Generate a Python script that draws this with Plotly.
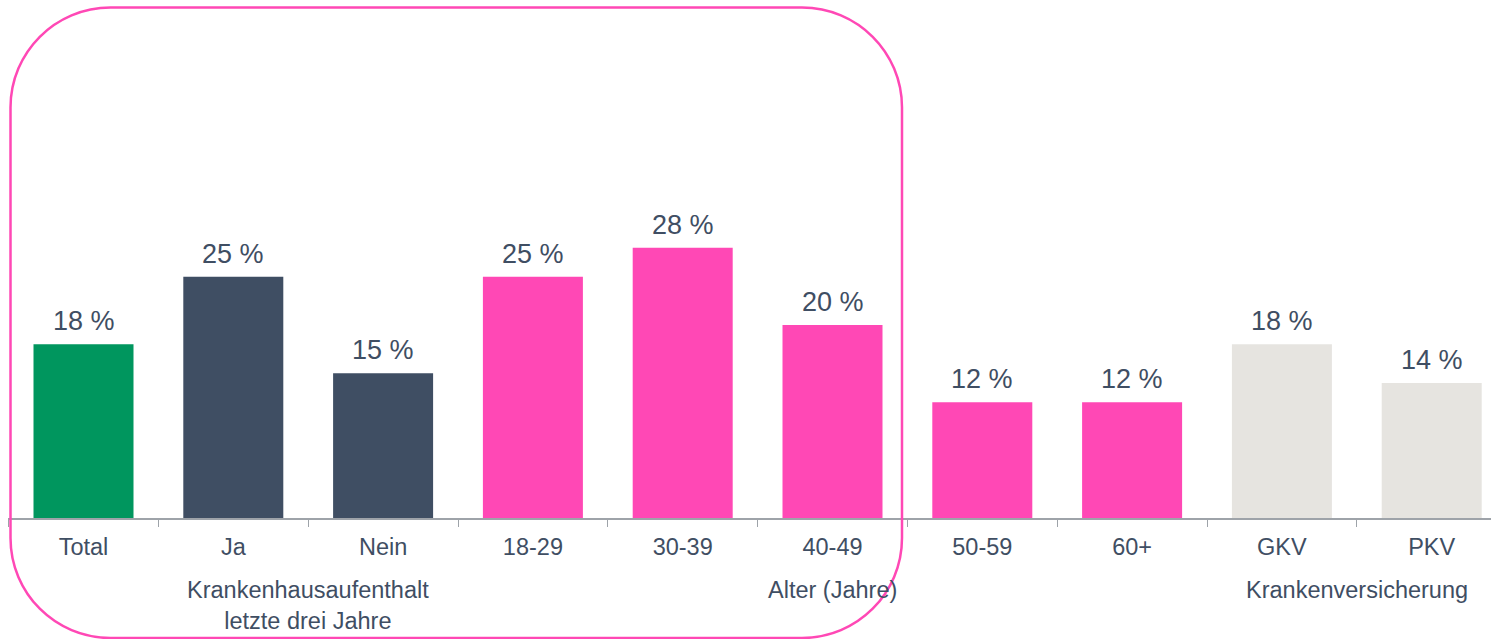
import plotly.graph_objects as go

categories = ["Total", "Ja", "Nein", "18-29", "30-39", "40-49", "50-59", "60+", "GKV", "PKV"]
values = [18, 25, 15, 25, 28, 20, 12, 12, 18, 14]
bar_colors = ["#00965E", "#3F4E63", "#3F4E63", "#FF48B5", "#FF48B5", "#FF48B5",
              "#FF48B5", "#FF48B5", "#E6E4E0", "#E6E4E0"]
group_labels = ["Krankenhausaufenthalt<br>letzte drei Jahre", "Alter (Jahre)", "Krankenversicherung"]
group_positions = [1.5, 5, 8.5]

TEXT = "#3F4E63"
FONT = "Liberation Sans, Arial, sans-serif"
W, H = 1491, 639
ML, MR, MT, MB = 8, 0, 0, 121
PW, PH = W - ML - MR, H - MT - MB
PX_PER_UNIT = 149.8
Y_PX_PER = 9.65

x_first_center = 83.5
x_max = (W - x_first_center) / PX_PER_UNIT
x_min = (ML - x_first_center) / PX_PER_UNIT
y_max = PH / Y_PX_PER

fig = go.Figure(go.Bar(
    x=categories, y=values,
    marker=dict(color=bar_colors, line=dict(width=0)),
    cliponaxis=False,
))

for c, v in zip(categories, values):
    fig.add_annotation(x=c, y=v, xref="x", yref="y", text=f"{v} %", showarrow=False,
                       yanchor="bottom", xanchor="center", yshift=6,
                       font=dict(size=27, color=TEXT, family=FONT))

def px2paper(px, py):
    return (px - ML) / PW, (H - MB - py) / PH

# rounded rectangle outline (pixel geometry)
L, T, R, B, r = 10.5, 7.5, 902, 638, 100
k = 0.5523 * r
def P(x, y):
    a, b = px2paper(x, y)
    return f"{a:.5f},{b:.5f}"
path = (
    f"M {P(L, T + r)} "
    f"C {P(L, T + r - k)} {P(L + r - k, T)} {P(L + r, T)} "
    f"L {P(R - r, T)} "
    f"C {P(R - r + k, T)} {P(R, T + r - k)} {P(R, T + r)} "
    f"L {P(R, B - r)} "
    f"C {P(R, B - r + k)} {P(R - r + k, B)} {P(R - r, B)} "
    f"L {P(L + r, B)} "
    f"C {P(L + r - k, B)} {P(L, B - r + k)} {P(L, B - r)} Z"
)
fig.add_shape(type="path", path=path, xref="paper", yref="paper",
              line=dict(color="#FF48B5", width=2.5), fillcolor="rgba(0,0,0,0)", layer="above")

for lab, pos in zip(group_labels, group_positions):
    fig.add_annotation(x=pos, y=px2paper(0, 575)[1], xref="x", yref="paper",
                       text=lab, showarrow=False, yanchor="top", xanchor="center",
                       font=dict(size=23.5, color=TEXT, family=FONT))

fig.update_layout(
    width=W, height=H,
    margin=dict(l=ML, r=MR, t=MT, b=MB),
    paper_bgcolor="white", plot_bgcolor="white",
    bargap=100 / 149.8 and (1 - 100 / 149.8), showlegend=False,
    font=dict(family=FONT, color=TEXT),
)
fig.update_xaxes(
    range=[x_min, x_max], showline=True, linecolor="#9EA3A9", linewidth=1.5,
    ticks="outside", tickson="boundaries", ticklen=7, tickcolor="#9EA3A9", tickwidth=1,
    ticklabelstandoff=7,
    tickfont=dict(size=23.5, color=TEXT, family=FONT), showgrid=False, zeroline=False,
)
fig.update_yaxes(range=[0, y_max], visible=False, showgrid=False, zeroline=False)

fig.write_html("out.html")
